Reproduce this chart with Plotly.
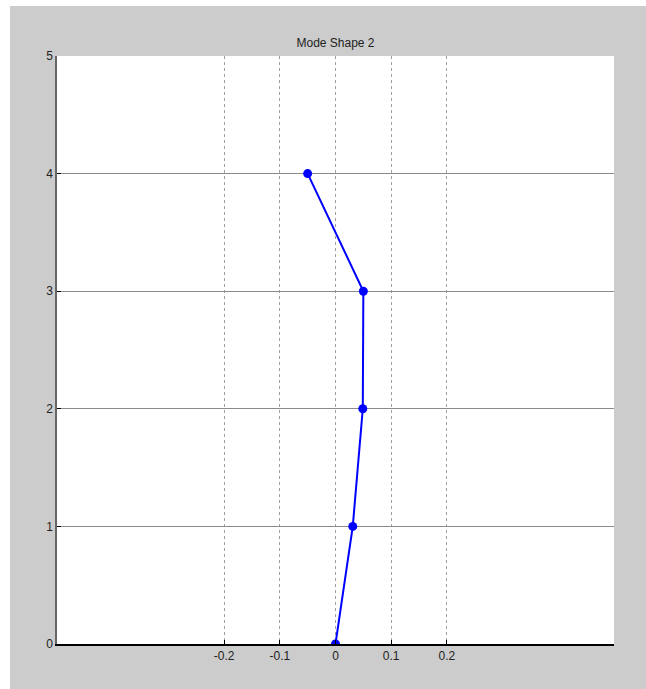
import plotly.graph_objects as go

# Mode shape 2: lateral displacement per storey level
displacement = [0.0, 0.031, 0.049, 0.050, -0.050]
level = [0, 1, 2, 3, 4]

x_ticks = [-0.2, -0.1, 0, 0.1, 0.2]
x_tick_text = ["-0.2", "-0.1", "0", "0.1", "0.2"]
y_ticks = [0, 1, 2, 3, 4, 5]

W, H = 646, 689
ML, MR, MT, MB = 57, 32, 56, 45
PW, PH = W - ML - MR, H - MT - MB

fig = go.Figure()
fig.add_trace(go.Scatter(
    x=displacement, y=level, mode="lines+markers",
    line=dict(color="#0000ff", width=2),
    marker=dict(color="#0000ff", size=9, symbol="circle"),
    showlegend=False,
))

font = dict(family="Liberation Sans Narrow, Arial Narrow, Liberation Sans, sans-serif",
            size=12, color="#222222")

# white strips along the top and left edges of the figure
def px_x(px):
    return (px - ML) / PW

def px_y(py):
    return (H - MB - py) / PH

shapes = [
    dict(type="rect", xref="paper", yref="paper", x0=px_x(0), x1=px_x(10),
         y0=px_y(H), y1=px_y(0), fillcolor="white", line=dict(width=0), layer="below"),
    dict(type="rect", xref="paper", yref="paper", x0=px_x(0), x1=px_x(W),
         y0=px_y(6), y1=px_y(0), fillcolor="white", line=dict(width=0), layer="below"),
]

fig.update_layout(
    width=W, height=H,
    margin=dict(l=ML, r=MR, t=MT, b=MB),
    paper_bgcolor="#cccccc",
    plot_bgcolor="white",
    font=font,
    title=dict(text="Mode Shape 2", x=0.5, xref="paper", y=1 - 43 / H,
               yanchor="middle", font=dict(size=12, family=font["family"], color="#222222")),
    shapes=shapes,
    xaxis=dict(
        range=[-0.5, 0.5], tickvals=x_ticks, ticktext=x_tick_text,
        showgrid=True, gridcolor="#a0a0a0", griddash="dot", gridwidth=1,
        zeroline=False, showline=True, linecolor="#000000", linewidth=1.5,
        ticks="inside", ticklen=4, tickcolor="#000000",
    ),
    yaxis=dict(
        range=[0, 5], tickvals=y_ticks,
        showgrid=True, gridcolor="#8a8a8a", gridwidth=1,
        zeroline=False, showline=True, linecolor="#666666", linewidth=1.5,
        ticks="inside", ticklen=4, tickcolor="#000000",
    ),
)

fig.write_html("out.html")
